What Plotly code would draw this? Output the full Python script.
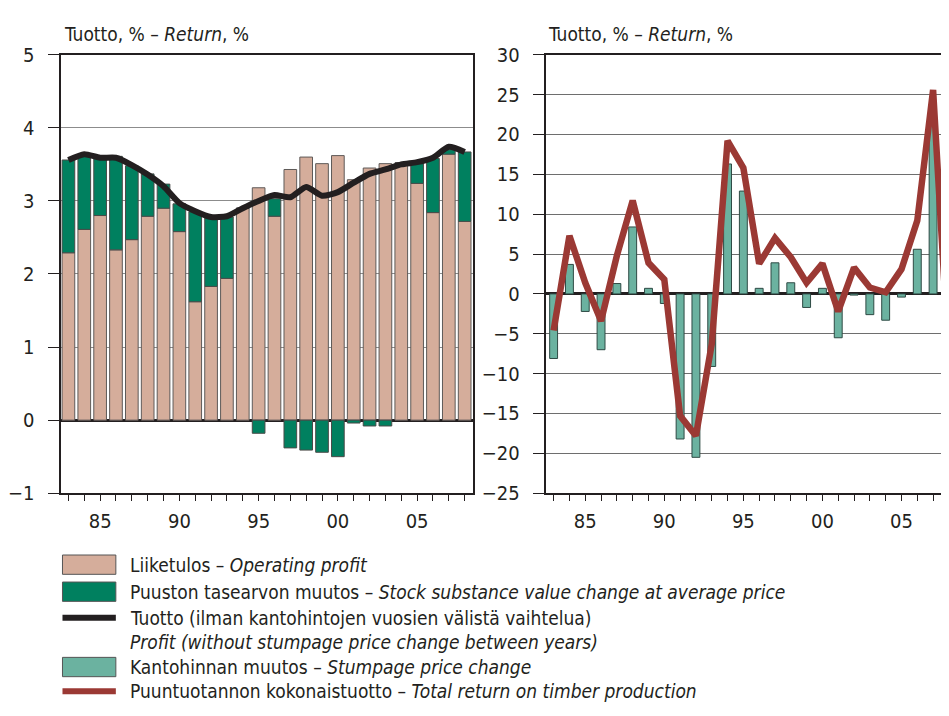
import plotly.graph_objects as go

# --- data ---
years = list(range(1983, 2009))

# left panel: stacked components and profit line (%)
operating_profit = [2.29, 2.61, 2.80, 2.33, 2.47, 2.79, 2.90, 2.58, 1.62, 1.83, 1.94, 2.90, 3.18,
                    2.79, 3.43, 3.60, 3.51, 3.62, 3.29, 3.45, 3.51, 3.52, 3.24, 2.84, 3.64, 2.72]
stock_change = [1.27, 1.03, 0.79, 1.28, 1.01, 0.58, 0.33, 0.38, 1.23, 0.94, 0.84, 0.0, -0.18,
                0.24, -0.38, -0.41, -0.44, -0.50, -0.04, -0.08, -0.08, 0.0, 0.27, 0.74, 0.06, 0.95]
profit_line = [3.56, 3.64, 3.59, 3.59, 3.49, 3.36, 3.20, 2.97, 2.86, 2.78, 2.79, 2.90, 3.00,
               3.08, 3.05, 3.19, 3.07, 3.12, 3.25, 3.37, 3.43, 3.50, 3.53, 3.59, 3.74, 3.67]

# right panel: stumpage price change and total return (%)
stumpage_change = [-8.1, 3.7, -2.2, -7.0, 1.3, 8.4, 0.7, -1.2, -18.2, -20.5, -9.1, 16.3, 12.9,
                   0.7, 3.9, 1.4, -1.7, 0.7, -5.5, -0.15, -2.6, -3.3, -0.4, 5.6, 21.8, -12.2]
total_return = [-4.6, 7.3, 1.4, -3.4, 4.8, 11.7, 3.9, 1.8, -15.3, -17.8, -6.3, 19.2, 15.8,
                3.8, 7.0, 4.6, 1.4, 3.8, -2.2, 3.3, 0.8, 0.2, 3.1, 9.2, 25.6, -8.5]

xtick_vals = years
xtick_text = [str(y)[2:] if y % 5 == 0 else "" for y in years]

TAN = "#D5AD9B"
GREEN = "#00805F"
TEAL = "#6BB2A0"
BLACK = "#231F20"
RED = "#9B3934"
FONT = "DejaVu Sans Condensed, sans-serif"

# page body has an 8px margin, so the figure is kept 16px smaller than the window
W, H = 933, 700
OFF = 8


def px_x(x):
    # x in window pixels -> paper fraction
    return (x - OFF) / W


def px_y(y):
    return 1 - (y - OFF) / H


fig = go.Figure()

# left panel
fig.add_trace(go.Bar(x=years, y=operating_profit, width=0.8, marker_color=TAN,
                     marker_line=dict(color="#5E5A58", width=1), xaxis="x", yaxis="y"))
fig.add_trace(go.Bar(x=years, y=stock_change, width=0.8, marker_color=GREEN,
                     marker_line=dict(color="#4A4A48", width=1), xaxis="x", yaxis="y"))
fig.add_trace(go.Scatter(x=years, y=profit_line, mode="lines",
                         line=dict(color=BLACK, width=6, shape="spline", smoothing=0.6),
                         xaxis="x", yaxis="y"))

# right panel
fig.add_trace(go.Bar(x=years, y=stumpage_change, width=0.5, marker_color=TEAL,
                     marker_line=dict(color="#2E4A44", width=1), xaxis="x2", yaxis="y2"))
fig.add_trace(go.Scatter(x=years, y=total_return, mode="lines",
                         line=dict(color=RED, width=6.5), xaxis="x2", yaxis="y2"))

axis_common = dict(showline=True, linecolor=BLACK, linewidth=2, ticks="outside",
                   tickcolor=BLACK, tickfont=dict(family=FONT, size=20, color="#231F20"))

right_end = 1982.5 + (OFF + W - 541) / 16.0

fig.update_layout(
    width=W, height=H,
    margin=dict(l=0, r=0, t=0, b=0),
    paper_bgcolor="white", plot_bgcolor="white",
    barmode="relative", showlegend=False,
    font=dict(family=FONT, color="#231F20"),
    xaxis=dict(domain=[px_x(50), px_x(467)], range=[1982.5, 2008.5], anchor="y",
               tickmode="array", tickvals=xtick_vals, ticktext=xtick_text,
               ticklen=6, ticklabelstandoff=3, mirror=True, showgrid=False, **axis_common),
    yaxis=dict(domain=[px_y(498), px_y(44)], range=[-1, 5], dtick=1, anchor="x",
               ticklen=11, ticklabelstandoff=9, mirror=True,
               showgrid=True, gridcolor="#8C8C8C", gridwidth=1,
               zeroline=True, zerolinecolor=BLACK, zerolinewidth=2.5, **axis_common),
    xaxis2=dict(domain=[px_x(541), 1.0], range=[1982.5, right_end], anchor="y2",
                tickmode="array", tickvals=xtick_vals, ticktext=xtick_text,
                ticklen=6, ticklabelstandoff=3, mirror=True, showgrid=False, **axis_common),
    yaxis2=dict(domain=[px_y(498), px_y(44)], range=[-25, 30], dtick=5, anchor="x2",
                ticklen=11, ticklabelstandoff=9,
                showgrid=True, gridcolor="#6E6E6E", gridwidth=1,
                zeroline=True, zerolinecolor=BLACK, zerolinewidth=2.5, **axis_common),
)

# panel titles
for xp in (52, 541):
    fig.add_annotation(x=px_x(xp), y=px_y(22), xref="paper", yref="paper",
                       xanchor="left", yanchor="middle", showarrow=False,
                       text="Tuotto, % – <i>Return</i>, %",
                       font=dict(family=FONT, size=19, color="#231F20"))

# legend drawn by hand
legend_rows = [
    ("box", TAN, "Liiketulos – <i>Operating profit</i>", 572),
    ("box", GREEN, "Puuston tasearvon muutos – <i>Stock substance value change at average price</i>", 600),
    ("line", BLACK, "Tuotto (ilman kantohintojen vuosien välistä vaihtelua)", 627),
    (None, None, "<i>Profit (without stumpage price change between years)</i>", 652),
    ("box", TEAL, "Kantohinnan muutos – <i>Stumpage price change</i>", 678),
    ("line", RED, "Puuntuotannon kokonaistuotto – <i>Total return on timber production</i>", 703),
]
for kind, col, label, yc in legend_rows:
    if kind == "box":
        fig.add_shape(type="rect", xref="paper", yref="paper",
                      x0=px_x(52), x1=px_x(106), y0=px_y(yc + 10), y1=px_y(yc - 10),
                      fillcolor=col, line=dict(color="#555555", width=1))
    elif kind == "line":
        fig.add_shape(type="line", xref="paper", yref="paper",
                      x0=px_x(52), x1=px_x(106), y0=px_y(yc), y1=px_y(yc),
                      line=dict(color=col, width=6))
    fig.add_annotation(x=px_x(118), y=px_y(yc), xref="paper", yref="paper",
                       xanchor="left", yanchor="middle", showarrow=False, text=label,
                       font=dict(family=FONT, size=19, color="#231F20"))

fig.write_html("out.html")
